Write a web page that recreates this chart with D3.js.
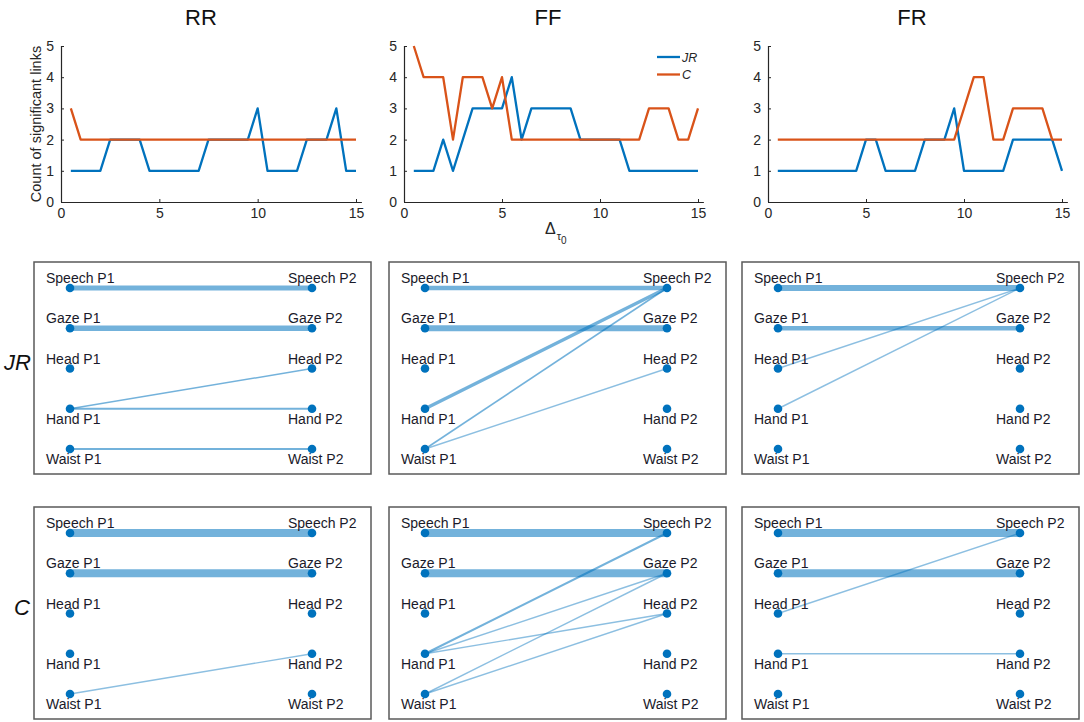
<!DOCTYPE html>
<html>
<head>
<meta charset="utf-8">
<script src="https://cdn.jsdelivr.net/npm/d3@7"></script>
<style>
  body { margin: 0; background: #fff; }
  text { font-family: "Liberation Sans", Arial, sans-serif; }
</style>
</head>
<body>
<div id="chart"></div>
<script>
// ---- DATA ----
const deltaTau = [0.5, 1, 1.5, 2, 2.5, 3, 3.5, 4, 4.5, 5, 5.5, 6, 6.5, 7, 7.5,
                  8, 8.5, 9, 9.5, 10, 10.5, 11, 11.5, 12, 12.5, 13, 13.5, 14, 14.5, 15];

const rrJR = [1, 1, 1, 1, 2, 2, 2, 2, 1, 1, 1, 1, 1, 1, 2, 2, 2, 2, 2, 3, 1, 1, 1, 1, 2, 2, 2, 3, 1, 1];
const rrC  = [3, 2, 2, 2, 2, 2, 2, 2, 2, 2, 2, 2, 2, 2, 2, 2, 2, 2, 2, 2, 2, 2, 2, 2, 2, 2, 2, 2, 2, 2];
const ffJR = [1, 1, 1, 2, 1, 2, 3, 3, 3, 3, 4, 2, 3, 3, 3, 3, 3, 2, 2, 2, 2, 2, 1, 1, 1, 1, 1, 1, 1, 1];
const ffC  = [5, 4, 4, 4, 2, 4, 4, 4, 3, 4, 2, 2, 2, 2, 2, 2, 2, 2, 2, 2, 2, 2, 2, 2, 3, 3, 3, 2, 2, 3];
const frJR = [1, 1, 1, 1, 1, 1, 1, 1, 1, 2, 2, 1, 1, 1, 1, 2, 2, 2, 3, 1, 1, 1, 1, 1, 2, 2, 2, 2, 2, 1];
const frC  = [2, 2, 2, 2, 2, 2, 2, 2, 2, 2, 2, 2, 2, 2, 2, 2, 2, 2, 2, 3, 4, 4, 2, 2, 3, 3, 3, 3, 2, 2];

const conditions = ["RR", "FF", "FR"];
const measures = ["JR", "C"];
const yTicks = [0, 1, 2, 3, 4, 5];
const xTicks = [0, 5, 10, 15];

const modalities = ["Speech", "Gaze", "Head", "Hand", "Waist"];
const people = ["P1", "P2"];

// significant links: [modality of P1, modality of P2, weight]
const linksRRJR = [["Speech", "Speech", 5], ["Gaze", "Gaze", 5.5], ["Hand", "Head", 1.5], ["Hand", "Hand", 2], ["Waist", "Waist", 2]];
const linksFFJR = [["Speech", "Speech", 4.5], ["Gaze", "Gaze", 6], ["Hand", "Speech", 3.5], ["Waist", "Speech", 1.6], ["Waist", "Head", 1.4]];
const linksFRJR = [["Speech", "Speech", 6], ["Gaze", "Gaze", 4.5], ["Head", "Speech", 1.4], ["Hand", "Speech", 1.4]];
const linksRRC  = [["Speech", "Speech", 8], ["Gaze", "Gaze", 8], ["Waist", "Hand", 1.4]];
const linksFFC  = [["Speech", "Speech", 8], ["Gaze", "Gaze", 8], ["Hand", "Speech", 2], ["Hand", "Gaze", 1.4],
                   ["Hand", "Head", 1.4], ["Waist", "Gaze", 1.4], ["Waist", "Head", 1.4]];
const linksFRC  = [["Speech", "Speech", 8], ["Gaze", "Gaze", 8], ["Head", "Speech", 1.4], ["Hand", "Hand", 1.4]];

const seriesByCond = { RR: [rrJR, rrC], FF: [ffJR, ffC], FR: [frJR, frC] };
const linksByPanel = {
    JR: { RR: linksRRJR, FF: linksFFJR, FR: linksFRJR },
    C:  { RR: linksRRC,  FF: linksFFC,  FR: linksFRC }
};

// ---- LAYOUT ----
const W = 1084, H = 722;
const blue = "#0072BD", orange = "#D95319", axisColor = "#262626";

const svg = d3.select("#chart").append("svg")
    .attr("width", W)
    .attr("height", H);

// line plot positions (pixel of x=0, pixel of x=15)
const plotLeft = { RR: 61, FF: 404, FR: 768 };
const plotRight = { RR: 356, FF: 698, FR: 1062 };
const titleX = { RR: 201, FF: 548, FR: 912 };
const plotTop = 46, plotBottom = 202;

const y = d3.scaleLinear().domain([0, 5]).range([plotBottom, plotTop]);

conditions.forEach(cond => {
    const x = d3.scaleLinear().domain([0, 15]).range([plotLeft[cond], plotRight[cond]]);
    const g = svg.append("g");

    // title
    g.append("text")
        .attr("x", titleX[cond])
        .attr("y", 25)
        .attr("text-anchor", "middle")
        .attr("font-size", 22)
        .attr("fill", "#111")
        .text(cond);

    // axes (ticks pointing inwards, matlab style)
    const xAxis = g.append("g")
        .attr("transform", `translate(0,${plotBottom})`)
        .call(d3.axisBottom(x).tickValues(xTicks).tickFormat(d3.format("d"))
            .tickSize(-3).tickPadding(6).tickSizeOuter(0));
    const yAxis = g.append("g")
        .attr("transform", `translate(${plotLeft[cond]},0)`)
        .call(d3.axisLeft(y).tickValues(yTicks).tickFormat(d3.format("d"))
            .tickSize(-3).tickPadding(7).tickSizeOuter(0));

    [xAxis, yAxis].forEach(a => {
        a.select(".domain").attr("stroke", axisColor).attr("stroke-width", 1.2);
        a.selectAll(".tick line").attr("stroke", axisColor);
        a.selectAll(".tick text")
            .attr("fill", axisColor)
            .attr("font-size", 14)
            .attr("font-family", "Liberation Sans, Arial, sans-serif");
    });
    // extend x axis a bit beyond 15 like the original
    xAxis.select(".domain").attr("d", `M${x(0)},0.5H${x(15.3)}`);
    yAxis.select(".domain").attr("d", `M0.5,${y(0)}V${y(5)}`);

    const line = d3.line()
        .x((d, i) => x(deltaTau[i]))
        .y(d => y(d));

    const [jr, c] = seriesByCond[cond];
    g.append("path").datum(jr)
        .attr("d", line)
        .attr("fill", "none")
        .attr("stroke", blue)
        .attr("stroke-width", 2.3)
        .attr("stroke-linejoin", "round");
    g.append("path").datum(c)
        .attr("d", line)
        .attr("fill", "none")
        .attr("stroke", orange)
        .attr("stroke-width", 2.3)
        .attr("stroke-linejoin", "round");
});

// y axis label
svg.append("text")
    .attr("transform", `translate(41,124) rotate(-90)`)
    .attr("text-anchor", "middle")
    .attr("font-size", 14.5)
    .attr("fill", axisColor)
    .text("Count of significant links");

// x axis label: Delta tau_0
const xl = svg.append("text")
    .attr("x", 545)
    .attr("y", 234)
    .attr("font-size", 16)
    .attr("fill", axisColor);
xl.append("tspan").text("\u0394");
xl.append("tspan").attr("font-size", 11).attr("dy", 6).attr("dx", 1).text("\u03C4");
xl.append("tspan").attr("font-size", 10).attr("dy", 4).text("0");

// legend in FF panel
const legend = svg.append("g").attr("transform", "translate(657,57)");
[["JR", blue], ["C", orange]].forEach(([name, col], i) => {
    legend.append("line")
        .attr("x1", 0).attr("x2", 23)
        .attr("y1", i * 17.5).attr("y2", i * 17.5)
        .attr("stroke", col)
        .attr("stroke-width", 2.3);
    legend.append("text")
        .attr("x", 25)
        .attr("y", i * 17.5 + 4.5)
        .attr("font-size", 12.5)
        .attr("font-style", "italic")
        .attr("fill", axisColor)
        .text(name);
});

// ---- NETWORK PANELS ----
const boxLeft = { RR: 34, FF: 389, FR: 742 };
const boxW = 337, boxH = 212;
const rowTop = { JR: 262, C: 507 };
const rowLabelX = { JR: 4, C: 14 };

const nodeX = d3.scalePoint().domain(people).range([36, 278]);
const nodeY = d3.scalePoint().domain(modalities).range([26, 187]);

measures.forEach(m => {
    // row label
    svg.append("text")
        .attr("x", rowLabelX[m])
        .attr("y", rowTop[m] + 108)
        .attr("font-family", "Open Sans, Noto Sans, sans-serif")
        .attr("font-style", "italic")
        .attr("font-size", 22)
        .attr("fill", "#111")
        .text(m);

    conditions.forEach(cond => {
        const g = svg.append("g")
            .attr("transform", `translate(${boxLeft[cond]},${rowTop[m]})`);

        g.append("rect")
            .attr("x", 0).attr("y", 0)
            .attr("width", boxW).attr("height", boxH)
            .attr("fill", "#fff")
            .attr("stroke", "#5a5a5a")
            .attr("stroke-width", 1.5);

        // edges
        g.selectAll(".edge")
            .data(linksByPanel[m][cond])
            .enter().append("line")
            .attr("class", "edge")
            .attr("x1", nodeX("P1"))
            .attr("y1", d => nodeY(d[0]))
            .attr("x2", nodeX("P2"))
            .attr("y2", d => nodeY(d[1]))
            .attr("stroke", blue)
            .attr("stroke-opacity", d => d[2] < 1.5 ? 0.45 : 0.55)
            .attr("stroke-width", d => d[2]);

        // nodes + labels
        people.forEach(p => {
            modalities.forEach(mod => {
                const cx = nodeX(p), cy = nodeY(mod);
                const below = (mod === "Hand" || mod === "Waist");
                g.append("text")
                    .attr("x", cx - 24)
                    .attr("y", below ? cy + 15 : cy - 5)
                    .attr("font-size", 14)
                    .attr("fill", "#1a1a2a")
                    .text(`${mod} ${p}`);
                g.append("circle")
                    .attr("cx", cx)
                    .attr("cy", cy)
                    .attr("r", 4.3)
                    .attr("fill", blue);
            });
        });
    });
});
</script>
</body>
</html>
